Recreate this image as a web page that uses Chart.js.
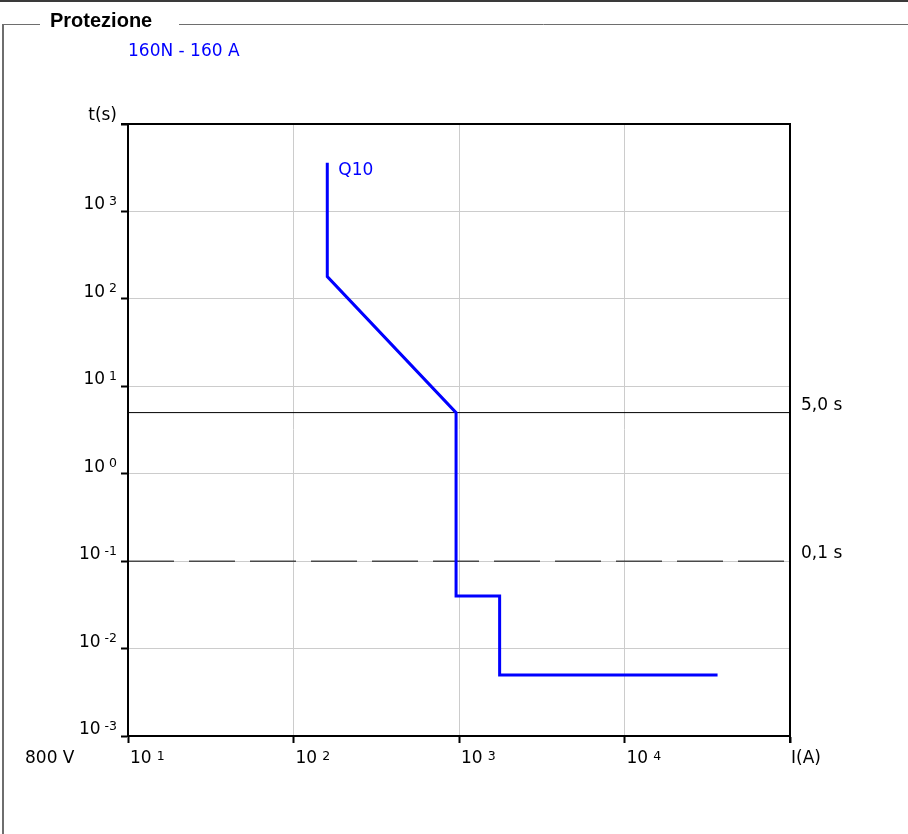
<!DOCTYPE html>
<html>
<head>
<meta charset="utf-8">
<script src="https://cdn.jsdelivr.net/npm/chart.js@4.4.1/dist/chart.umd.min.js"></script>
<style>
  html, body { margin: 0; padding: 0; background: #fff; }
  #wrap { position: relative; width: 908px; height: 834px; }
  canvas { position: absolute; left: 0; top: 0; }
</style>
</head>
<body>
<div id="wrap"><canvas id="c" width="908" height="834"></canvas></div>
<script>
// Trip curve of the breaker (current in A, time in s)
const curveCurrent = [160, 160, 960, 960, 1760, 1760, 36500];
const curveTime    = [3600, 180, 5, 0.04, 0.04, 0.005, 0.005];

// Decade ticks of both log axes
const currentDecades = [1, 2, 3, 4, 5];          // 10^1 .. 10^5
const timeDecades    = [-3, -2, -1, 0, 1, 2, 3, 4]; // 10^-3 .. 10^4

// Reference times
const refTimes  = [5, 0.1];
const refLabels = ['5,0 s', '0,1 s'];

const deviceName = '160N - 160 A';
const curveName  = 'Q10';
const panelTitle = 'Protezione';
const voltageLabel = '800 V';

const FONT = '"DejaVu Sans", Verdana, sans-serif';
const MAIN = '17px ' + FONT;
const SUP  = '12.5px ' + FONT;

const curvePoints = curveCurrent.map((x, i) => ({ x, y: curveTime[i] }));
const xMin = 10 ** currentDecades[0], xMax = 10 ** currentDecades[currentDecades.length - 1];
const yMin = 10 ** timeDecades[0],    yMax = 10 ** timeDecades[timeDecades.length - 1];

const refDatasets = refTimes.map((t, i) => ({
  label: refLabels[i],
  data: [{ x: xMin, y: t }, { x: xMax, y: t }],
  borderColor: '#000',
  borderWidth: 1,
  borderDash: i === 1 ? [46, 15] : [],
  pointRadius: 0,
  order: 2
}));

// Frame of the panel, drawn under the chart
const panelFrame = {
  id: 'panelFrame',
  beforeDraw(chart) {
    const ctx = chart.ctx;
    ctx.save();
    ctx.fillStyle = '#fff';
    ctx.fillRect(0, 0, chart.width, chart.height);
    ctx.fillStyle = '#3a3a3a';
    ctx.fillRect(0, 0, chart.width, 2);
    ctx.strokeStyle = '#6e6e6e';
    ctx.lineWidth = 1;
    ctx.beginPath();
    ctx.moveTo(3, 834); ctx.lineTo(3, 24.5); ctx.lineTo(40, 24.5);
    ctx.moveTo(179, 24.5); ctx.lineTo(908, 24.5);
    ctx.stroke();
    ctx.lineWidth = 2;
    ctx.beginPath();
    ctx.moveTo(3, 834); ctx.lineTo(3, 24);
    ctx.stroke();
    ctx.fillStyle = '#000';
    ctx.font = 'bold 20px "Liberation Sans", Arial, sans-serif';
    ctx.textBaseline = 'alphabetic';
    ctx.fillText(panelTitle, 50, 27);
    ctx.restore();
  }
};

// Axis labels written as powers of ten, plus the chart annotations
const axisText = {
  id: 'axisText',
  afterDraw(chart) {
    const ctx = chart.ctx;
    const xs = chart.scales.x, ys = chart.scales.y;
    const a = chart.chartArea;
    ctx.save();

    // closing frame: top and right edges
    ctx.strokeStyle = '#000';
    ctx.lineWidth = 2;
    ctx.beginPath();
    ctx.moveTo(a.left - 7, a.top); ctx.lineTo(a.right, a.top); ctx.lineTo(a.right, a.bottom + 7);
    ctx.stroke();

    ctx.fillStyle = '#000';
    ctx.textBaseline = 'alphabetic';

    // time axis
    timeDecades.forEach(e => {
      if (e === timeDecades[timeDecades.length - 1]) return;
      const py = ys.getPixelForValue(10 ** e);
      ctx.font = SUP;
      ctx.textAlign = 'right';
      ctx.fillText(String(e), 117, py - 6.5);
      const sw = ctx.measureText(String(e)).width;
      ctx.font = MAIN;
      ctx.fillText('10', 117 - sw - 4, py - 2);
    });
    ctx.font = MAIN;
    ctx.textAlign = 'right';
    ctx.fillText('t(s)', 117, a.top - 4);

    // current axis
    currentDecades.forEach(e => {
      if (e === currentDecades[currentDecades.length - 1]) return;
      const px = xs.getPixelForValue(10 ** e);
      ctx.font = MAIN;
      ctx.textAlign = 'left';
      ctx.fillText('10', px + 2, 763);
      const w = ctx.measureText('10').width;
      ctx.font = SUP;
      ctx.fillText(String(e), px + 2 + w + 5, 759.5);
    });
    ctx.font = MAIN;
    ctx.textAlign = 'left';
    ctx.fillText('I(A)', a.right + 1, 763);
    ctx.fillText(voltageLabel, 25, 763);

    // reference time labels
    refTimes.forEach((t, i) => {
      ctx.fillText(refLabels[i], a.right + 11, ys.getPixelForValue(t) - 3);
    });

    // curve and device labels
    ctx.fillStyle = '#0000ff';
    ctx.fillText(curveName, xs.getPixelForValue(curveCurrent[0]) + 11, ys.getPixelForValue(curveTime[0]) + 12);
    ctx.fillText(deviceName, a.left, 56);
    ctx.restore();
  }
};

new Chart(document.getElementById('c'), {
  type: 'line',
  data: {
    datasets: [
      {
        label: curveName,
        data: curvePoints,
        borderColor: '#0000ff',
        borderWidth: 3,
        pointRadius: 0,
        tension: 0,
        order: 0
      },
      ...refDatasets
    ]
  },
  options: {
    responsive: false,
    devicePixelRatio: 1,
    animation: false,
    layout: { padding: { left: 0, right: 118, top: 124, bottom: 0 } },
    plugins: { legend: { display: false }, tooltip: { enabled: false } },
    scales: {
      x: {
        type: 'logarithmic',
        min: xMin, max: xMax,
        afterBuildTicks: s => { s.ticks = currentDecades.map(e => ({ value: 10 ** e })); },
        afterFit: s => { s.height = 98; },
        ticks: { display: false },
        grid: { color: '#cccccc', lineWidth: 1, tickColor: '#000', tickLength: 7, tickWidth: 2 },
        border: { color: '#000', width: 2 }
      },
      y: {
        type: 'logarithmic',
        min: yMin, max: yMax,
        afterBuildTicks: s => { s.ticks = timeDecades.map(e => ({ value: 10 ** e })); },
        afterFit: s => { s.width = 128; },
        ticks: { display: false },
        grid: { color: '#cccccc', lineWidth: 1, tickColor: '#000', tickLength: 7, tickWidth: 2 },
        border: { color: '#000', width: 2 }
      }
    }
  },
  plugins: [panelFrame, axisText]
});
</script>
</body>
</html>
